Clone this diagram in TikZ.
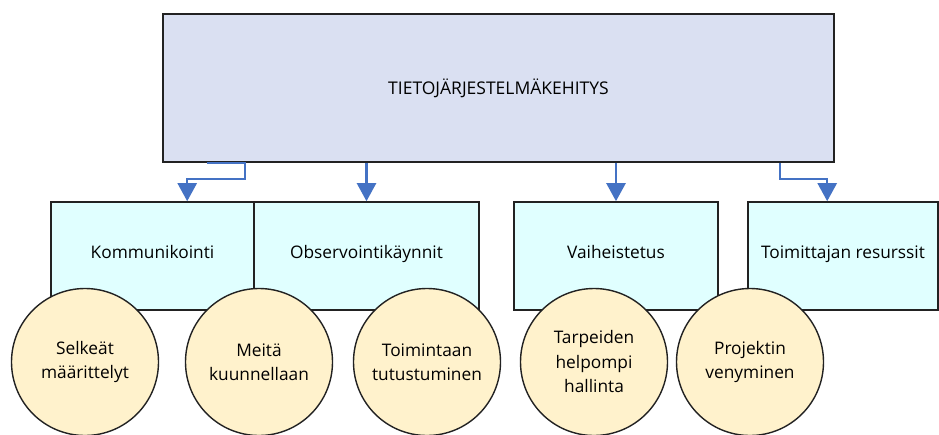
\documentclass[tikz,border=0pt]{standalone}
\usepackage{fontspec}
\setmainfont{Open Sans}
\usetikzlibrary{arrows.meta}
\definecolor{topfill}{HTML}{DAE0F2}
\definecolor{boxfill}{HTML}{E0FFFF}
\definecolor{circfill}{HTML}{FFF2CC}
\definecolor{linkblue}{HTML}{4472C4}
\definecolor{edge}{HTML}{222222}
\tikzset{
  rootbox/.style={draw=edge, line width=1.6pt, fill=topfill, inner sep=0pt,
    minimum width=671pt, minimum height=148pt, font=\fontsize{17.5}{20}\selectfont},
  catbox/.style={draw=edge, line width=1.6pt, fill=boxfill, inner sep=0pt,
    text height=0.72em, text depth=0.22em,
    minimum height=108pt, font=\fontsize{17.3}{20}\selectfont},
  factor/.style={circle, draw=edge, line width=1.4pt, fill=circfill, inner sep=0pt,
    minimum size=147pt, align=center, font=\fontsize{17.3}{24.5}\selectfont},
  link/.style={draw=linkblue, line width=2.4pt,
    -{Triangle[width=19pt,length=18pt]}}
}
\begin{document}
\begin{tikzpicture}[x=1pt,y=-1pt]
\useasboundingbox (0,0) rectangle (939,434);
\fill[white] (0,0) rectangle (939,434);

% root
\node[rootbox] (top) at (498.5,88) {TIETOJÄRJESTELMÄKEHITYS};

% categories
\node[catbox, minimum width=203pt] (komm) at (152.5,256) {Kommunikointi};
\node[catbox, minimum width=225pt] (obs) at (366.5,256) {Observointikäynnit};
\node[catbox, minimum width=204pt] (vai) at (616,256) {Vaiheistetus};
\node[catbox, minimum width=190pt] (toim) at (843,256) {Toimittajan resurssit};

% factors
\node[factor] (c1) at (85,362) {Selkeät\\määrittelyt};
\node[factor] (c2) at (259,362) {Meitä\\kuunnellaan};
\node[factor] (c3) at (427,362) {Toimintaan\\tutustuminen};
\node[factor] (c4) at (594,362) {Tarpeiden\\helpompi\\hallinta};
\node[factor] (c5) at (750,362) {Projektin\\venyminen};

% connectors
\draw[link] ([xshift=45pt]top.south west) -- ++(38,0) -- ++(0,16)
  -| ([xshift=137pt]komm.north west);
\draw[link] (top.south -| obs.north) -- (obs.north);
\draw[link] (top.south -| vai.north) -- (vai.north);
\draw[link] ([xshift=618pt]top.south west) -- ++(0,16)
  -| ([xshift=80pt]toim.north west);
\end{tikzpicture}
\end{document}
